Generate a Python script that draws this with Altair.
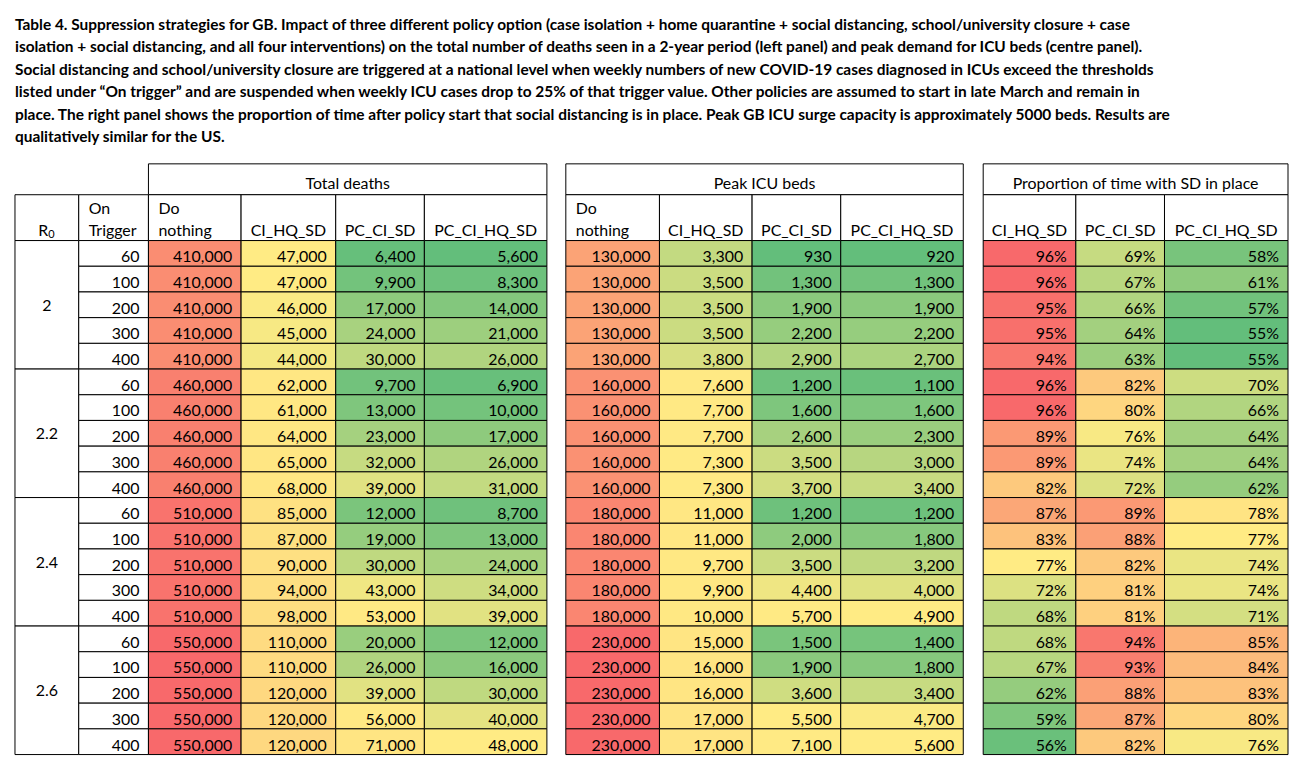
import altair as alt
import numpy as np
import pandas as pd

# ---------------- data ----------------
R0_LABELS = ["2", "2.2", "2.4", "2.6"]
TRIGGERS = [60, 100, 200, 300, 400]
STRATEGIES = ["CI_HQ_SD", "PC_CI_SD", "PC_CI_HQ_SD"]

# Total deaths (rows: R0 2 -> 2.6, each with triggers 60..400)
DEATHS_DO_NOTHING = [410000, 410000, 410000, 410000, 410000,
                     460000, 460000, 460000, 460000, 460000,
                     510000, 510000, 510000, 510000, 510000,
                     550000, 550000, 550000, 550000, 550000]
DEATHS_CI_HQ_SD = [47000, 47000, 46000, 45000, 44000,
                   62000, 61000, 64000, 65000, 68000,
                   85000, 87000, 90000, 94000, 98000,
                   110000, 110000, 120000, 120000, 120000]
DEATHS_PC_CI_SD = [6400, 9900, 17000, 24000, 30000,
                   9700, 13000, 23000, 32000, 39000,
                   12000, 19000, 30000, 43000, 53000,
                   20000, 26000, 39000, 56000, 71000]
DEATHS_PC_CI_HQ_SD = [5600, 8300, 14000, 21000, 26000,
                      6900, 10000, 17000, 26000, 31000,
                      8700, 13000, 24000, 34000, 39000,
                      12000, 16000, 30000, 40000, 48000]

# Peak ICU beds
ICU_DO_NOTHING = [130000, 130000, 130000, 130000, 130000,
                  160000, 160000, 160000, 160000, 160000,
                  180000, 180000, 180000, 180000, 180000,
                  230000, 230000, 230000, 230000, 230000]
ICU_CI_HQ_SD = [3300, 3500, 3500, 3500, 3800,
                7600, 7700, 7700, 7300, 7300,
                11000, 11000, 9700, 9900, 10000,
                15000, 16000, 16000, 17000, 17000]
ICU_PC_CI_SD = [930, 1300, 1900, 2200, 2900,
                1200, 1600, 2600, 3500, 3700,
                1200, 2000, 3500, 4400, 5700,
                1500, 1900, 3600, 5500, 7100]
ICU_PC_CI_HQ_SD = [920, 1300, 1900, 2200, 2700,
                   1100, 1600, 2300, 3000, 3400,
                   1200, 1800, 3200, 4000, 4900,
                   1400, 1800, 3400, 4700, 5600]

# Proportion of time with SD in place (%)
SD_CI_HQ_SD = [96, 96, 95, 95, 94,
               96, 96, 89, 89, 82,
               87, 83, 77, 72, 68,
               68, 67, 62, 59, 56]
SD_PC_CI_SD = [69, 67, 66, 64, 63,
               82, 80, 76, 74, 72,
               89, 88, 82, 81, 81,
               94, 93, 88, 87, 82]
SD_PC_CI_HQ_SD = [58, 61, 57, 55, 55,
                  70, 66, 64, 64, 62,
                  78, 77, 74, 74, 71,
                  85, 84, 83, 80, 76]

PANEL_TITLES = ["Total deaths", "Peak ICU beds", "Proportion of time with SD in place"]

TITLE_LINES = [
    "Table 4. Suppression strategies for GB. Impact of three different policy option (case isolation + home quarantine + social distancing, school/university closure + case",
    "isolation + social distancing, and all four interventions) on the total number of deaths seen in a 2-year period (left panel) and peak demand for ICU beds (centre panel).",
    "Social distancing and school/university closure are triggered at a national level when weekly numbers of new COVID-19 cases diagnosed in ICUs exceed the thresholds",
    "listed under \u201cOn trigger\u201d and are suspended when weekly ICU cases drop to 25% of that trigger value. Other policies are assumed to start in late March and remain in",
    "place. The right panel shows the proportion of time after policy start that social distancing is in place. Peak GB ICU surge capacity is approximately 5000 beds. Results are",
    "qualitatively similar for the US.",
]

# ---------------- layout (table geometry, in plot units) ----------------
W_R0, W_TRIG = 64, 70
PANEL_COL_W = [[93, 95, 89, 123], [94, 93, 89, 123], [93, 89, 124]]
GAP = [19, 20]
H1, H2, ROW_H = 31, 46, 25.8
FONT = "Lato"
FS = 16
GREEN, YELLOW, RED = "#63BE7B", "#FFEB84", "#F8696B"

panels = [
    ("deaths", ["Do nothing"] + STRATEGIES,
     [DEATHS_DO_NOTHING, DEATHS_CI_HQ_SD, DEATHS_PC_CI_SD, DEATHS_PC_CI_HQ_SD], "num"),
    ("icu", ["Do nothing"] + STRATEGIES,
     [ICU_DO_NOTHING, ICU_CI_HQ_SD, ICU_PC_CI_SD, ICU_PC_CI_HQ_SD], "num"),
    ("sd", STRATEGIES, [SD_CI_HQ_SD, SD_PC_CI_SD, SD_PC_CI_HQ_SD], "pct"),
]

n_rows = len(R0_LABELS) * len(TRIGGERS)
TOTAL_H = H1 + H2 + n_rows * ROW_H


def row_top(i):
    return H1 + H2 + i * ROW_H


cells, white, txt_right, txt_center, txt_left, txt_sub_r, txt_sub_l = [], [], [], [], [], [], []

# R0 and trigger columns
x0 = 0
white.append(dict(x=x0, x2=x0 + W_R0, y=H1, y2=H1 + H2))
white.append(dict(x=x0 + W_R0, x2=x0 + W_R0 + W_TRIG, y=H1, y2=H1 + H2))
txt_sub_r.append(dict(x=x0 + W_R0 / 2 + 1.5, y=H1 + H2 - 5, t="R"))
txt_sub_l.append(dict(x=x0 + W_R0 / 2 + 1.5, y=H1 + H2 - 3, t="0"))
txt_left.append(dict(x=x0 + W_R0 + 10, y=H1 + H2 - 26.5, t="On"))
txt_left.append(dict(x=x0 + W_R0 + 10, y=H1 + H2 - 5, t="Trigger"))
for g, r0 in enumerate(R0_LABELS):
    top = row_top(g * len(TRIGGERS))
    bot = row_top((g + 1) * len(TRIGGERS))
    white.append(dict(x=x0, x2=x0 + W_R0, y=top, y2=bot))
    txt_center.append(dict(x=x0 + W_R0 / 2, y=(top + bot) / 2 + 6, t=r0))
    for k, trig in enumerate(TRIGGERS):
        i = g * len(TRIGGERS) + k
        white.append(dict(x=x0 + W_R0, x2=x0 + W_R0 + W_TRIG, y=row_top(i), y2=row_top(i) + ROW_H))
        txt_right.append(dict(x=x0 + W_R0 + W_TRIG, y=row_top(i) + ROW_H - 4, t=str(trig)))

x = W_R0 + W_TRIG
for p, (pid, cols, series, kind) in enumerate(panels):
    widths = PANEL_COL_W[p]
    pstart = x
    pend = x + sum(widths)
    white.append(dict(x=pstart, x2=pend, y=0, y2=H1))
    txt_center.append(dict(x=(pstart + pend) / 2, y=H1 - 5.5, t=PANEL_TITLES[p]))
    for c, (name, w, vals) in enumerate(zip(cols, widths, series)):
        white.append(dict(x=x, x2=x + w, y=H1, y2=H1 + H2))
        if name == "Do nothing":
            txt_left.append(dict(x=x + 10, y=H1 + H2 - 26.5, t="Do"))
            txt_left.append(dict(x=x + 10, y=H1 + H2 - 5, t="nothing"))
        else:
            txt_center.append(dict(x=x + w / 2, y=H1 + H2 - 5, t=name))
        for i, v in enumerate(vals):
            lab = f"{v}%" if kind == "pct" else f"{v:,}"
            cells.append(dict(panel=pid, x=x, x2=x + w, y=row_top(i), y2=row_top(i) + ROW_H, value=v))
            txt_right.append(dict(x=x + w, y=row_top(i) + ROW_H - 4, t=lab))
        x += w
    if p < len(GAP):
        x += GAP[p]

TOTAL_W = x

cells_df = pd.DataFrame(cells)
white_df = pd.DataFrame(white)

xs = alt.Scale(domain=[0, TOTAL_W], nice=False, zero=False)
ys = alt.Scale(domain=[0, TOTAL_H], nice=False, zero=False, reverse=True)


def X(f="x"):
    return alt.X(f"{f}:Q", scale=xs, axis=None)


def Y(f="y"):
    return alt.Y(f"{f}:Q", scale=ys, axis=None)


layers = []
layers.append(
    alt.Chart(white_df).mark_rect(fill="white", stroke="black", strokeWidth=1).encode(
        x=X(), x2="x2:Q", y=Y(), y2="y2:Q")
)
for pid, _, series, _ in panels:
    sub = cells_df[cells_df.panel == pid]
    allv = np.concatenate([np.asarray(s, dtype=float) for s in series])
    dom = [float(allv.min()), float(np.median(allv)), float(allv.max())]
    layers.append(
        alt.Chart(sub).mark_rect(stroke="black", strokeWidth=1).encode(
            x=X(), x2="x2:Q", y=Y(), y2="y2:Q",
            color=alt.Color("value:Q", legend=None,
                            scale=alt.Scale(domain=dom, range=[GREEN, YELLOW, RED], interpolate="rgb")))
    )

for df_, align, dx, fs in [(txt_right, "right", -9, FS), (txt_center, "center", 0, FS),
                           (txt_left, "left", 0, FS), (txt_sub_r, "right", 0, FS),
                           (txt_sub_l, "left", 0, 11)]:
    layers.append(
        alt.Chart(pd.DataFrame(df_)).mark_text(align=align, baseline="alphabetic", dx=dx,
                                               font=FONT, fontSize=fs, color="black").encode(
            x=X(), y=Y(), text="t:N")
    )

chart = alt.layer(*layers).resolve_scale(color="independent").properties(
    width=TOTAL_W, height=TOTAL_H,
    title=alt.TitleParams(TITLE_LINES, anchor="start", font=FONT, fontSize=15.5, fontWeight="bold",
                          color="black", lineHeight=22.5, offset=18, frame="group"),
    padding={"left": 6, "top": 8, "right": 0, "bottom": 0},
).configure_view(stroke=None)

chart.save("out.html", embed_options={"renderer": "svg", "actions": False})
